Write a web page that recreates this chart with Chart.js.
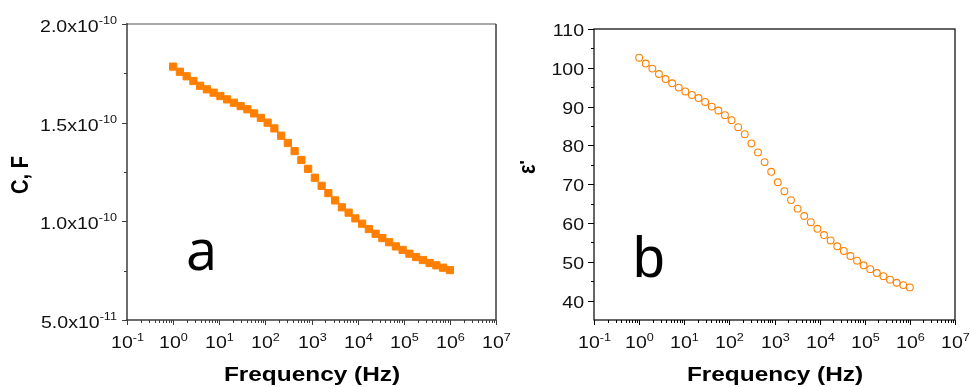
<!DOCTYPE html>
<html>
<head>
<meta charset="utf-8">
<script src="https://cdn.jsdelivr.net/npm/chart.js"></script>
<style>
html, body { margin: 0; padding: 0; background: #fff; }
#wrap { position: relative; width: 970px; height: 387px; overflow: hidden; }
canvas { position: absolute; top: 0; }
#ca { left: 0; }
#cb { left: 520px; }
</style>
</head>
<body>
<div id="wrap">
  <canvas id="ca" width="520" height="387"></canvas>
  <canvas id="cb" width="450" height="387"></canvas>
</div>
<script>
// frequency points (Hz), same for both panels
const freq = [1, 1.401, 1.962, 2.748, 3.85, 5.393, 7.551, 10.58, 14.82, 20.76,
  29.08, 40.73, 57.04, 79.88, 111.9, 156.7, 219.5, 307.5, 430.7, 603.3,
  845, 1184, 1658, 2322, 3253, 4556, 6381, 8937, 12520, 17530,
  24560, 34400, 48180, 67490, 94540, 132400, 185500, 259700, 363900, 509700,
  713900, 1000000];

// panel a : capacitance (F)
const capacitance = [1.784e-10, 1.758e-10, 1.735e-10, 1.711e-10, 1.687e-10, 1.669e-10, 1.652e-10, 1.635e-10, 1.618e-10, 1.601e-10,
  1.584e-10, 1.568e-10, 1.547e-10, 1.524e-10, 1.500e-10, 1.471e-10, 1.434e-10, 1.397e-10, 1.356e-10, 1.311e-10,
  1.266e-10, 1.221e-10, 1.180e-10, 1.143e-10, 1.106e-10, 1.071e-10, 1.044e-10, 1.015e-10, 9.88e-11, 9.61e-11,
  9.37e-11, 9.15e-11, 8.94e-11, 8.73e-11, 8.55e-11, 8.36e-11, 8.19e-11, 8.04e-11, 7.89e-11, 7.77e-11,
  7.65e-11, 7.53e-11];

// panel b : real permittivity
const permittivity = [102.6, 101.1, 99.8, 98.4, 97.1, 96.0, 94.9, 93.9, 93.0, 92.2,
  91.2, 90.0, 89.0, 87.8, 86.5, 84.7, 82.9, 80.5, 78.2, 75.7,
  73.2, 70.5, 68.2, 65.9, 63.7, 61.8, 60.2, 58.5, 56.9, 55.5,
  54.0, 52.8, 51.5, 50.3, 49.1, 48.1, 47.1, 46.3, 45.4, 44.6,
  44.0, 43.4];

// axis ticks
const decades = [-1, 0, 1, 2, 3, 4, 5, 6, 7];
const capTicks = [5e-11, 1e-10, 1.5e-10, 2e-10];
const capTickBase = ['5.0x10', '1.0x10', '1.5x10', '2.0x10'];
const capTickExp = ['-11', '-10', '-10', '-10'];
const capMinor = [7.5e-11, 1.25e-10, 1.75e-10];
const epsTicks = [40, 50, 60, 70, 80, 90, 100, 110];
const epsMinor = [45, 55, 65, 75, 85, 95, 105];

const FONT = '"Liberation Sans", Arial, sans-serif';
const SX = 1.15;

function stretchText(ctx, str, x, y, align, sx) {
  const w = ctx.measureText(str).width * sx;
  const x0 = align === 'center' ? x - w / 2 : align === 'right' ? x - w : x;
  ctx.save();
  ctx.translate(x0, y);
  ctx.scale(sx, 1);
  ctx.textAlign = 'left';
  ctx.fillText(str, 0, 0);
  ctx.restore();
  return w;
}

function powerLabel(ctx, base, exp, x, y, align, raise) {
  ctx.font = '17px ' + FONT;
  const wb = ctx.measureText(base).width * SX;
  ctx.font = '11px ' + FONT;
  const we = ctx.measureText(exp).width * SX;
  const total = wb + we;
  const x0 = align === 'center' ? x - total / 2 : align === 'right' ? x - total : x;
  ctx.font = '17px ' + FONT;
  stretchText(ctx, base, x0, y, 'left', SX);
  ctx.font = '11px ' + FONT;
  stretchText(ctx, exp, x0 + wb, y - raise, 'left', SX);
}

function line(ctx, x1, y1, x2, y2) {
  ctx.beginPath();
  ctx.moveTo(x1, y1);
  ctx.lineTo(x2, y2);
  ctx.stroke();
}

const framePlugin = {
  id: 'frame',
  afterDraw(chart, args, opts) {
    const ctx = chart.ctx;
    const a = chart.chartArea;
    const xs = chart.scales.x, ys = chart.scales.y;
    ctx.save();
    ctx.textBaseline = 'alphabetic';
    ctx.fillStyle = '#111';

    // box
    if (opts.panel === 'a') {
      ctx.lineWidth = 1.8;
      ctx.strokeStyle = '#a8a8a8';
      line(ctx, a.left, a.top, a.right, a.top);
      ctx.lineWidth = 1.5;
      ctx.strokeStyle = '#3c3c3c';
      line(ctx, a.right, a.top, a.right, a.bottom);
      line(ctx, a.left, a.top - 1, a.left, a.bottom);
      line(ctx, a.left - 1, a.bottom, a.right, a.bottom);
    } else {
      ctx.lineWidth = 1.2;
      ctx.strokeStyle = '#000';
      ctx.strokeRect(a.left, a.top, a.right - a.left, a.bottom - a.top);
    }
    ctx.lineWidth = 1;

    // x ticks (log)
    decades.forEach(d => {
      const px = Math.round(xs.getPixelForValue(Math.pow(10, d))) + 0.5;
      line(ctx, px, a.bottom, px, a.bottom + 5);
      powerLabel(ctx, '10', String(d), px, a.bottom + 28, 'center', 7);
      if (d < 7) {
        for (let m = 2; m <= 9; m++) {
          const mx = Math.round(xs.getPixelForValue(m * Math.pow(10, d))) + 0.5;
          line(ctx, mx, a.bottom, mx, a.bottom + 3);
        }
      }
    });

    // y ticks
    if (opts.panel === 'a') {
      capTicks.forEach((v, i) => {
        const py = Math.round(ys.getPixelForValue(v)) + 0.5;
        line(ctx, a.left - 5, py, a.left, py);
        powerLabel(ctx, capTickBase[i], capTickExp[i], a.left - 10, py + 7, 'right', 8);
      });
      capMinor.forEach(v => {
        const py = Math.round(ys.getPixelForValue(v)) + 0.5;
        line(ctx, a.left - 3, py, a.left, py);
      });
    } else {
      epsTicks.forEach(v => {
        const py = Math.round(ys.getPixelForValue(v)) + 0.5;
        line(ctx, a.left - 6, py, a.left, py);
        ctx.font = '17px ' + FONT;
        stretchText(ctx, String(v), a.left - 10, py + 6, 'right', SX);
      });
      epsMinor.forEach(v => {
        const py = Math.round(ys.getPixelForValue(v)) + 0.5;
        line(ctx, a.left - 3, py, a.left, py);
      });
    }

    // axis titles
    ctx.fillStyle = '#000';
    ctx.font = 'bold 20px ' + FONT;
    stretchText(ctx, 'Frequency (Hz)', opts.xTitleX, 381, 'center', 1.22);
    ctx.save();
    ctx.translate(opts.yTitleX, opts.yTitleY);
    ctx.rotate(-Math.PI / 2);
    ctx.scale(1, 1.2);
    ctx.textAlign = 'center';
    ctx.textBaseline = 'middle';
    ctx.fillText(opts.yTitle, 0, 0);
    ctx.restore();

    // panel letter
    ctx.font = opts.letterFont;
    ctx.textAlign = 'left';
    ctx.fillText(opts.letter, opts.letterX, opts.letterY);
    ctx.restore();
  }
};

Chart.register(framePlugin);

const baseOpts = (padding, frame, yMin, yMax) => ({
  responsive: false,
  animation: false,
  events: [],
  layout: { padding: padding },
  plugins: { legend: { display: false }, tooltip: { enabled: false }, frame: frame },
  scales: {
    x: { type: 'logarithmic', min: 0.1, max: 1e7, display: false },
    y: { type: 'linear', min: yMin, max: yMax, display: false }
  }
});

new Chart(document.getElementById('ca'), {
  type: 'scatter',
  data: {
    datasets: [{
      data: freq.map((f, i) => ({ x: f, y: capacitance[i] })),
      pointStyle: 'rect',
      pointRadius: 5.1,
      backgroundColor: '#ff8000',
      borderColor: '#ff8000',
      borderWidth: 1,
      showLine: false
    }]
  },
  options: baseOpts({ left: 127, right: 24, top: 24, bottom: 67 },
    { panel: 'a', xTitleX: 312, yTitle: 'C, F', yTitleX: 21, yTitleY: 175,
      letter: 'a', letterFont: '56px "Open Sans", sans-serif', letterX: 186, letterY: 270 },
    5e-11, 2e-10)
});

new Chart(document.getElementById('cb'), {
  type: 'scatter',
  data: {
    datasets: [{
      data: freq.map((f, i) => ({ x: f, y: permittivity[i] })),
      pointStyle: 'circle',
      pointRadius: 3.4,
      backgroundColor: 'rgba(255,255,255,0)',
      borderColor: '#ff8000',
      borderWidth: 1.1,
      showLine: false
    }]
  },
  options: baseOpts({ left: 74, right: 15, top: 29, bottom: 67 },
    { panel: 'b', xTitleX: 255, yTitle: "ε'", yTitleX: 8, yTitleY: 167,
      letter: 'b', letterFont: '57px ' + FONT, letterX: 113, letterY: 277 },
    35, 110)
});
</script>
</body>
</html>
